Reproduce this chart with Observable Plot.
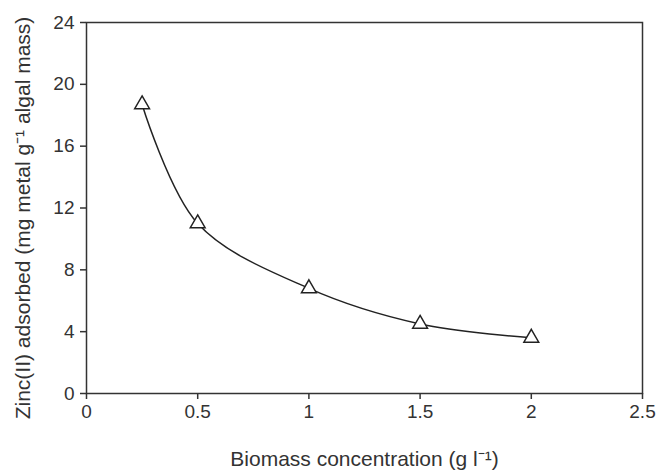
<!DOCTYPE html>
<html>
<head>
<meta charset="utf-8">
<script src="https://cdn.jsdelivr.net/npm/d3@7"></script>
<script src="https://cdn.jsdelivr.net/npm/@observablehq/plot@0.6"></script>
<style>
  html, body { margin: 0; padding: 0; background: #fff; }
  #chart { width: 660px; height: 475px; }
</style>
</head>
<body>
<div id="chart"></div>
<script>
const biomass = [0.25, 0.5, 1.0, 1.5, 2.0];
const zincAdsorbed = [18.7, 11.0, 6.8, 4.5, 3.6];
const xTicks = [0, 0.5, 1, 1.5, 2, 2.5];
const xTickLabels = ["0", "0.5", "1", "1.5", "2", "2.5"];
const yTicks = [0, 4, 8, 12, 16, 20, 24];
const xLabel = "Biomass concentration (g l\u207B\u00B9)";
const yLabel = "Zinc(II) adsorbed (mg metal g\u207B\u00B9 algal mass)";

const data = biomass.map((x, i) => ({x, y: zincAdsorbed[i]}));
const ink = "#333";

const chart = Plot.plot({
  width: 660,
  height: 475,
  marginLeft: 86,
  marginRight: 18,
  marginTop: 22,
  marginBottom: 82,
  style: {fontFamily: "Liberation Sans, Arial, sans-serif", fontSize: "19px", color: ink, background: "#fff"},
  x: {domain: [0, 2.5], ticks: xTicks, tickFormat: (d, i) => xTickLabels[i], label: null},
  y: {domain: [0, 24], ticks: yTicks, label: null},
  marks: [
    Plot.frame({stroke: ink, strokeWidth: 1.5}),
    Plot.axisX({ticks: xTicks, tickFormat: (d, i) => xTickLabels[i], tickSize: 6, tickPadding: 5, stroke: ink, strokeWidth: 1.5, fontSize: 19, label: null}),
    Plot.axisY({ticks: yTicks, tickSize: 6, tickPadding: 6, stroke: ink, strokeWidth: 1.5, fontSize: 19, label: null}),
    Plot.line(data, {x: "x", y: "y", curve: "catmull-rom", stroke: "#222", strokeWidth: 1.5}),
    Plot.dot(data, {x: "x", y: "y", symbol: "triangle", r: 5.5, stroke: "#222", fill: "#fff", strokeWidth: 1.5}),
    Plot.text([xLabel], {frameAnchor: "bottom", dy: 72, fontSize: 21, fill: ink}),
    Plot.text([yLabel], {frameAnchor: "left", textAnchor: "middle", lineAnchor: "middle", dx: -63, dy: 10, rotate: -90, fontSize: 21, fill: ink})
  ]
});
document.getElementById("chart").appendChild(chart);
</script>
</body>
</html>
